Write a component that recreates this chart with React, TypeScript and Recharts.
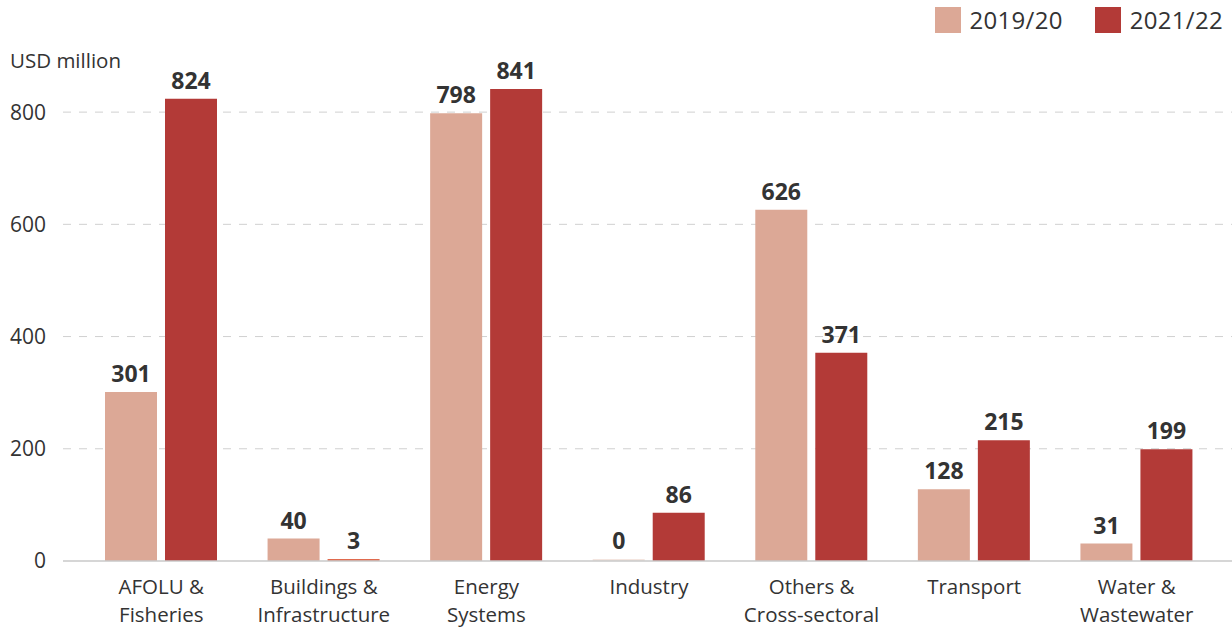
import { BarChart, Bar, XAxis, YAxis, CartesianGrid, LabelList, ReferenceLine, Cell } from 'recharts'

const categories = [
  'AFOLU &|Fisheries',
  'Buildings &|Infrastructure',
  'Energy|Systems',
  'Industry',
  'Others &|Cross-sectoral',
  'Transport',
  'Water &|Wastewater',
]
const values2019 = [301, 40, 798, 0, 626, 128, 31]
const values2021 = [824, 3, 841, 86, 371, 215, 199]
const yTicks = [0, 200, 400, 600, 800]
const gridValues = [200, 400, 600, 800]

const LIGHT = '#dca896'
const DARK = '#b33a37'
const FONT = '"Open Sans", Lato, sans-serif'

const data = categories.map((name, i) => ({
  name,
  a: values2019[i],
  b: values2021[i],
}))

function CategoryTick(props: any) {
  const { x, y, payload } = props
  const lines = String(payload.value).split('|')
  return (
    <text x={x} y={y} textAnchor="middle" fill="#333" fontSize={20.5} fontFamily={FONT}>
      {lines.map((l, i) => (
        <tspan key={i} x={x} dy={i === 0 ? 25 : 28}>
          {l}
        </tspan>
      ))}
    </text>
  )
}

function LegendBox() {
  const items = [
    { label: '2019/20', color: LIGHT },
    { label: '2021/22', color: DARK },
  ]
  return (
    <div
      style={{
        position: 'absolute',
        right: 9,
        top: 3,
        display: 'flex',
        gap: 32,
        fontFamily: FONT,
        fontSize: 24,
        color: '#333',
      }}
    >
      {items.map((it) => (
        <div key={it.label} style={{ display: 'flex', alignItems: 'center', gap: 9 }}>
          <span style={{ width: 26, height: 26, background: it.color, display: 'inline-block' }} />
          <span style={{ letterSpacing: 0.3 }}>{it.label}</span>
        </div>
      ))}
    </div>
  )
}

const valueLabel = {
  position: 'top' as const,
  offset: 10,
  fill: '#333',
  fontSize: 23,
  fontWeight: 700,
  fontFamily: FONT,
}

export default function App() {
  return (
    <div style={{ position: 'absolute', left: 0, top: 0, width: 1232, height: 627, background: '#fff' }}>
      <div
        style={{
          position: 'absolute',
          left: 10,
          top: 46,
          fontFamily: FONT,
          fontSize: 20.5,
          color: '#333',
        }}
      >
        USD million
      </div>
      <LegendBox />
      <BarChart
        width={1232}
        height={627}
        data={data}
        margin={{ top: 56, right: 0, bottom: 0, left: 0 }}
        barSize={52}
        barGap={8}
      >
        <CartesianGrid
          vertical={false}
          stroke="#d0d0d0"
          strokeDasharray="8 8"
          horizontalValues={gridValues}
        />
        <XAxis
          dataKey="name"
          height={66}
          padding={{ left: 17, right: 14 }}
          tickLine={false}
          axisLine={false}
          tick={<CategoryTick />}
          interval={0}
        />
        <YAxis
          width={63}
          domain={[0, 900]}
          ticks={yTicks}
          tickLine={false}
          axisLine={false}
          tickMargin={11}
          tick={{ fill: '#333', fontSize: 21, fontFamily: FONT }}
        />
        <ReferenceLine y={0} stroke="#c8c8c8" strokeWidth={1.5} />
        <Bar dataKey="a" fill={LIGHT} minPointSize={2} isAnimationActive={false}>
          {values2019.map((v, i) => (
            <Cell key={i} fill={LIGHT} fillOpacity={v === 0 ? 0.3 : 1} />
          ))}
          <LabelList dataKey="a" {...valueLabel} />
        </Bar>
        <Bar dataKey="b" fill={DARK} minPointSize={2} isAnimationActive={false}>
          {values2021.map((v, i) => (
            <Cell key={i} fill={v < 5 ? '#e06a4e' : DARK} />
          ))}
          <LabelList dataKey="b" {...valueLabel} />
        </Bar>
      </BarChart>
    </div>
  )
}
